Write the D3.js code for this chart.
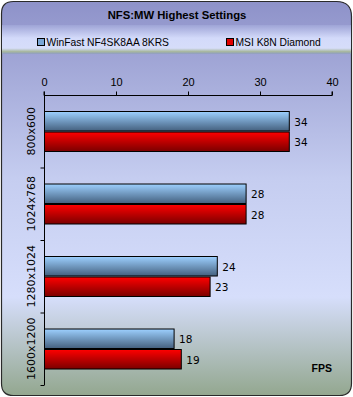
<!DOCTYPE html>
<html lang="en">
<head>
<meta charset="UTF-8">
<title>NFS:MW Highest Settings</title>
<style>
    body { margin: 0; background: #ffffff; overflow: hidden; }
    svg { display: block; font-family: "DejaVu Sans", Verdana, sans-serif; }
    .axis text { font-size: 11px; fill: #000; }
    .axis path, .axis line { stroke: #000; }
    .narrow { font-family: "Liberation Sans", Arial, sans-serif; }
</style>
</head>
<body>
<svg width="353" height="397"></svg>
<script src="https://d3js.org/d3.v7.min.js"></script>
<script>
    // data
    const resolutions = ["800x600", "1024x768", "1280x1024", "1600x1200"];
    const seriesNames = ["WinFast NF4SK8AA 8KRS", "MSI K8N Diamond"];
    const winfast = [34, 28, 24, 18];
    const msi = [34, 28, 23, 19];
    const xTicks = [0, 10, 20, 30, 40];

    const series = [winfast, msi];
    const svg = d3.select("svg");
    const defs = svg.append("defs");

    // background gradient for the panel
    const bg = defs.append("linearGradient").attr("id", "bg")
        .attr("x1", 0).attr("y1", 0).attr("x2", 0).attr("y2", 1);
    bg.append("stop").attr("offset", "0%").attr("stop-color", "#8e92c9");
    bg.append("stop").attr("offset", "45%").attr("stop-color", "#c5cdf0");
    bg.append("stop").attr("offset", "75%").attr("stop-color", "#d6defb");
    bg.append("stop").attr("offset", "100%").attr("stop-color", "#93a78f");

    const legBg = defs.append("linearGradient").attr("id", "legbg")
        .attr("x1", 0).attr("y1", 0).attr("x2", 0).attr("y2", 1);
    legBg.append("stop").attr("offset", "0%").attr("stop-color", "#9ea4d6");
    legBg.append("stop").attr("offset", "45%").attr("stop-color", "#d3dafa");
    legBg.append("stop").attr("offset", "80%").attr("stop-color", "#d6ddf9");
    legBg.append("stop").attr("offset", "92%").attr("stop-color", "#a6b69c");
    legBg.append("stop").attr("offset", "100%").attr("stop-color", "#8f9cc8");

    const barGrads = [["#9dd0ff", "#44607e"], ["#ff0000", "#7a0000"]];
    barGrads.forEach((c, i) => {
        const g = defs.append("linearGradient").attr("id", "bar" + i)
            .attr("x1", 0).attr("y1", 0).attr("x2", 0).attr("y2", 1);
        g.append("stop").attr("offset", "0%").attr("stop-color", c[0]);
        g.append("stop").attr("offset", "100%").attr("stop-color", c[1]);
    });

    // panel with rounded corners
    svg.append("path")
        .attr("d", "M1.5,13.5 Q1.5,1.5 13.5,1.5 L336.5,1.5 Q351.5,1.5 351.5,16.5 L351.5,383.5 Q351.5,395.5 339.5,395.5 L13.5,395.5 Q1.5,395.5 1.5,383.5 Z")
        .attr("fill", "url(#bg)")
        .attr("stroke", "#2a2a2a")
        .attr("stroke-width", 1.2);

    // title
    svg.append("text")
        .attr("class", "narrow")
        .attr("x", 177).attr("y", 19)
        .attr("text-anchor", "middle")
        .attr("font-size", 11.3).attr("font-weight", "bold")
        .text("NFS:MW Highest Settings");

    // legend band
    svg.append("rect")
        .attr("x", 2).attr("y", 25).attr("width", 349).attr("height", 29)
        .attr("fill", "url(#legbg)");

    const legendX = [37, 226];
    const legend = svg.append("g").selectAll("g").data(seriesNames).join("g")
        .attr("transform", (d, i) => `translate(${legendX[i]},38)`);
    legend.append("rect")
        .attr("width", 7).attr("height", 7).attr("y", 0.5).attr("x", 0.5)
        .attr("fill", (d, i) => i === 0 ? "#7aa6d6" : "#e00000")
        .attr("stroke", "#000");
    legend.append("text")
        .attr("class", "narrow")
        .attr("x", 9.5).attr("y", 7.5)
        .attr("font-size", 10.3)
        .text(d => d);

    // scales
    const x = d3.scaleLinear().domain([0, 40]).range([44, 332]);
    const y = d3.scaleBand().domain(resolutions).range([95, 385]);
    const inner = d3.scaleBand().domain([0, 1]).range([16, 57]);

    // top axis
    svg.append("g").attr("class", "axis")
        .attr("transform", "translate(0,95.5)")
        .call(d3.axisTop(x).tickValues(xTicks).tickSize(4).tickSizeOuter(0).tickPadding(6))
        .call(g => g.select(".domain").attr("d", "M44,-4V0H332V-4"));

    // left axis
    const yAxis = svg.append("g").attr("class", "axis")
        .attr("transform", "translate(44.5,0)");
    yAxis.append("line").attr("x1", 0).attr("x2", 0).attr("y1", 95).attr("y2", 385).attr("stroke", "#000");
    yAxis.selectAll(".tk").data(resolutions).join("line")
        .attr("class", "tk")
        .attr("x1", -4).attr("x2", 0)
        .attr("y1", d => y(d) + y.bandwidth() + 0.5)
        .attr("y2", d => y(d) + y.bandwidth() + 0.5)
        .attr("stroke", "#000");
    yAxis.selectAll(".lbl").data(resolutions).join("text")
        .attr("class", "lbl")
        .attr("transform", d => `translate(-10,${y(d) + y.bandwidth() / 2}) rotate(-90)`)
        .attr("text-anchor", "middle")
        .attr("font-size", 11)
        .text(d => d);

    // bars
    const groups = svg.append("g").selectAll("g").data(resolutions).join("g")
        .attr("transform", d => `translate(0,${y(d)})`);
    series.forEach((vals, si) => {
        groups.append("rect")
            .attr("x", x(0) + 0.5)
            .attr("y", inner(si) + 0.5)
            .attr("width", (d, i) => x(vals[i]) - x(0))
            .attr("height", inner.bandwidth() - 1)
            .attr("fill", `url(#bar${si})`)
            .attr("stroke", "#000")
            .attr("stroke-width", 1);
        groups.append("text")
            .attr("x", (d, i) => x(vals[i]) + 5.5)
            .attr("y", inner(si) + inner.bandwidth() / 2 + 4.5)
            .attr("font-size", 10.5)
            .text((d, i) => vals[i]);
    });

    // unit label
    svg.append("text")
        .attr("class", "narrow")
        .attr("x", 332).attr("y", 372)
        .attr("text-anchor", "end")
        .attr("font-size", 10.5).attr("font-weight", "bold")
        .text("FPS");
</script>
</body>
</html>
